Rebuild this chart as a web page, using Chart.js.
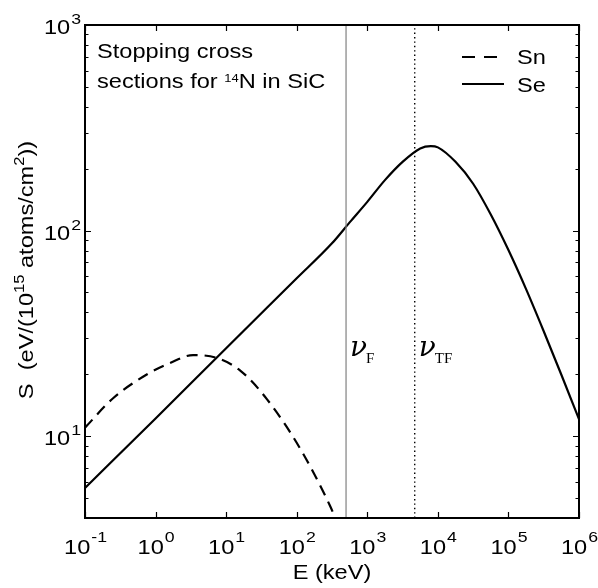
<!DOCTYPE html>
<html>
<head>
<meta charset="utf-8">
<script src="https://cdn.jsdelivr.net/npm/chart.js@4.4.0/dist/chart.umd.min.js"></script>
<style>
  html, body { margin: 0; padding: 0; background: #fff; }
  #wrap { width: 598px; height: 588px; }
</style>
</head>
<body>
<div id="wrap"><canvas id="stopChart" width="598" height="588"></canvas></div>
<script>
// Nuclear stopping Sn (keV, eV/1e15 atoms/cm2)
const snEnergy = [0.1, 0.25, 0.76, 1.6, 3.4, 7.4, 16, 38, 112, 295, 400];
const snValues = [11, 15.3, 20, 22.7, 24.8, 24, 20.8, 15.1, 8.7, 4.6, 3.6];

// Electronic stopping Se
const seEnergy = [0.1, 1, 10, 100, 316, 562, 1000, 1778, 3162, 5623, 7943, 10000, 17783, 31623, 56234, 100000, 177828, 316228, 562341, 1000000];
const seValues = [5.6, 12.2, 26.8, 58.6, 86.7, 109.6, 138, 176, 216, 251, 257.6, 254, 216, 169, 119.7, 80.4, 51.9, 32.4, 19.9, 12.1];

// Fermi and Thomas-Fermi velocity markers (keV)
const markerEnergy = [500, 4700];
const markerSubs = ['F', 'TF'];

// tick labels (powers of ten)
const xTickExps = [-1, 0, 1, 2, 3, 4, 5, 6];
const yTickExps = [1, 2, 3];

const xMin = 0.1, xMax = 1e6, yMin = 4, yMax = 1000;

function toPoints(xs, ys) {
  return xs.map((x, i) => ({ x: x, y: ys[i] }));
}

const SANS = '"Liberation Sans", Arial, sans-serif';
const STRETCH = 1.18; // the reference lettering is a bit wide

// width of a string once stretched
function textW(ctx, s, size) {
  ctx.font = size + 'px ' + SANS;
  return ctx.measureText(s).width * STRETCH;
}

// draw left-aligned, horizontally stretched text
function sText(ctx, s, x, y, size) {
  ctx.save();
  ctx.font = size + 'px ' + SANS;
  ctx.textAlign = 'left';
  ctx.translate(x, y);
  ctx.scale(STRETCH, 1);
  ctx.fillText(s, 0, 0);
  ctx.restore();
}

// draws frame, inward ticks, labels, legend and notes
const decorPlugin = {
  id: 'decor',
  afterDraw(chart) {
    const ctx = chart.ctx;
    const a = chart.chartArea;
    const xs = chart.scales.x, ys = chart.scales.y;
    ctx.save();
    ctx.strokeStyle = '#000';
    ctx.fillStyle = '#000';
    ctx.textBaseline = 'alphabetic';

    // ticks
    ctx.lineWidth = 1.2;
    ctx.beginPath();
    xTickExps.forEach(e => {
      const px = Math.round(xs.getPixelForValue(Math.pow(10, e))) + 0.5;
      ctx.moveTo(px, a.bottom); ctx.lineTo(px, a.bottom - 6);
      ctx.moveTo(px, a.top); ctx.lineTo(px, a.top + 6);
    });
    for (let d = 0; d < 3; d++) {
      for (let m = 1; m <= 9; m++) {
        const v = m * Math.pow(10, d);
        if (v < yMin || v > yMax) continue;
        const py = Math.round(ys.getPixelForValue(v)) + 0.5;
        const len = m === 1 ? 6 : 3.5;
        ctx.moveTo(a.left, py); ctx.lineTo(a.left + len, py);
        ctx.moveTo(a.right, py); ctx.lineTo(a.right - len, py);
      }
    }
    ctx.stroke();

    // frame
    ctx.lineWidth = 2;
    ctx.strokeRect(a.left, a.top, a.right - a.left, a.bottom - a.top);

    // x tick labels
    xTickExps.forEach(e => {
      const px = xs.getPixelForValue(Math.pow(10, e));
      const ex = String(e);
      const w1 = textW(ctx, '10', 20);
      const w2 = textW(ctx, ex, 15);
      const x0 = px - (w1 + w2) / 2;
      sText(ctx, '10', x0, a.bottom + 36, 20);
      sText(ctx, ex, x0 + w1 + 1, a.bottom + 24, 15);
    });

    // y tick labels
    yTickExps.forEach(e => {
      const py = ys.getPixelForValue(Math.pow(10, e));
      const ex = String(e);
      const w2 = textW(ctx, ex, 15);
      const w1 = textW(ctx, '10', 20);
      sText(ctx, ex, a.left - 4 - w2, py - 1, 15);
      sText(ctx, '10', a.left - 5 - w2 - w1, py + 9, 20);
    });

    // x title
    const wt = textW(ctx, 'E (keV)', 20);
    sText(ctx, 'E (keV)', (a.left + a.right) / 2 - wt / 2, 579, 20);

    // y title (rotated), with superscripts
    ctx.save();
    ctx.translate(33, 270);
    ctx.rotate(-Math.PI / 2);
    const parts = [
      ['S  (eV/(10', 20, 0],
      ['15', 14, -9],
      [' atoms/cm', 20, 0],
      ['2', 14, -9],
      ['))', 20, 0]
    ];
    let total = 0;
    parts.forEach(p => { total += textW(ctx, p[0], p[1]); });
    let cx = -total / 2;
    parts.forEach(p => {
      sText(ctx, p[0], cx, p[2], p[1]);
      cx += textW(ctx, p[0], p[1]);
    });
    ctx.restore();

    // note in upper left
    sText(ctx, 'Stopping cross', 97, 58, 20);
    let nx = 97;
    const t1 = 'sections for ';
    sText(ctx, t1, nx, 88, 20); nx += textW(ctx, t1, 20);
    sText(ctx, '14', nx, 82, 11); nx += textW(ctx, '14', 11);
    sText(ctx, 'N in SiC', nx, 88, 20);

    // legend
    ctx.lineWidth = 2;
    ctx.setLineDash([13, 9]);
    ctx.beginPath(); ctx.moveTo(462, 57); ctx.lineTo(504, 57); ctx.stroke();
    ctx.setLineDash([]);
    ctx.beginPath(); ctx.moveTo(462, 84); ctx.lineTo(504, 84); ctx.stroke();
    sText(ctx, 'Sn', 517, 64, 20);
    sText(ctx, 'Se', 517, 92, 20);

    // velocity labels
    markerEnergy.forEach((E, i) => {
      const px = xs.getPixelForValue(E);
      ctx.font = 'italic 28px "DejaVu Serif", "Liberation Serif", serif';
      ctx.textAlign = 'left';
      ctx.fillText('\u03bd', px + 4, 356);
      const w = ctx.measureText('\u03bd').width;
      ctx.font = '15px "Liberation Serif", serif';
      ctx.fillText(markerSubs[i], px + 3 + w, 363);
    });

    ctx.restore();
  }
};

const ctx = document.getElementById('stopChart').getContext('2d');
new Chart(ctx, {
  type: 'line',
  data: {
    datasets: [
      {
        label: 'vF',
        data: toPoints([markerEnergy[0], markerEnergy[0]], [yMin, yMax]),
        borderColor: '#808080',
        borderWidth: 1.2,
        pointRadius: 0
      },
      {
        label: 'vTF',
        data: toPoints([markerEnergy[1], markerEnergy[1]], [yMin, yMax]),
        borderColor: '#000',
        borderWidth: 1.4,
        borderDash: [1.4, 3],
        pointRadius: 0
      },
      {
        label: 'Sn',
        data: toPoints(snEnergy, snValues),
        borderColor: '#000',
        borderWidth: 2.2,
        borderDash: [11, 7],
        pointRadius: 0,
        cubicInterpolationMode: 'monotone'
      },
      {
        label: 'Se',
        data: toPoints(seEnergy, seValues),
        borderColor: '#000',
        borderWidth: 2.2,
        pointRadius: 0,
        cubicInterpolationMode: 'monotone'
      }
    ]
  },
  options: {
    responsive: false,
    animation: false,
    devicePixelRatio: 1,
    layout: { padding: { left: 85, top: 25, right: 19, bottom: 70 } },
    plugins: { legend: { display: false }, tooltip: { enabled: false } },
    scales: {
      x: { type: 'logarithmic', min: xMin, max: xMax, display: false },
      y: { type: 'logarithmic', min: yMin, max: yMax, display: false }
    }
  },
  plugins: [decorPlugin]
});
</script>
</body>
</html>
